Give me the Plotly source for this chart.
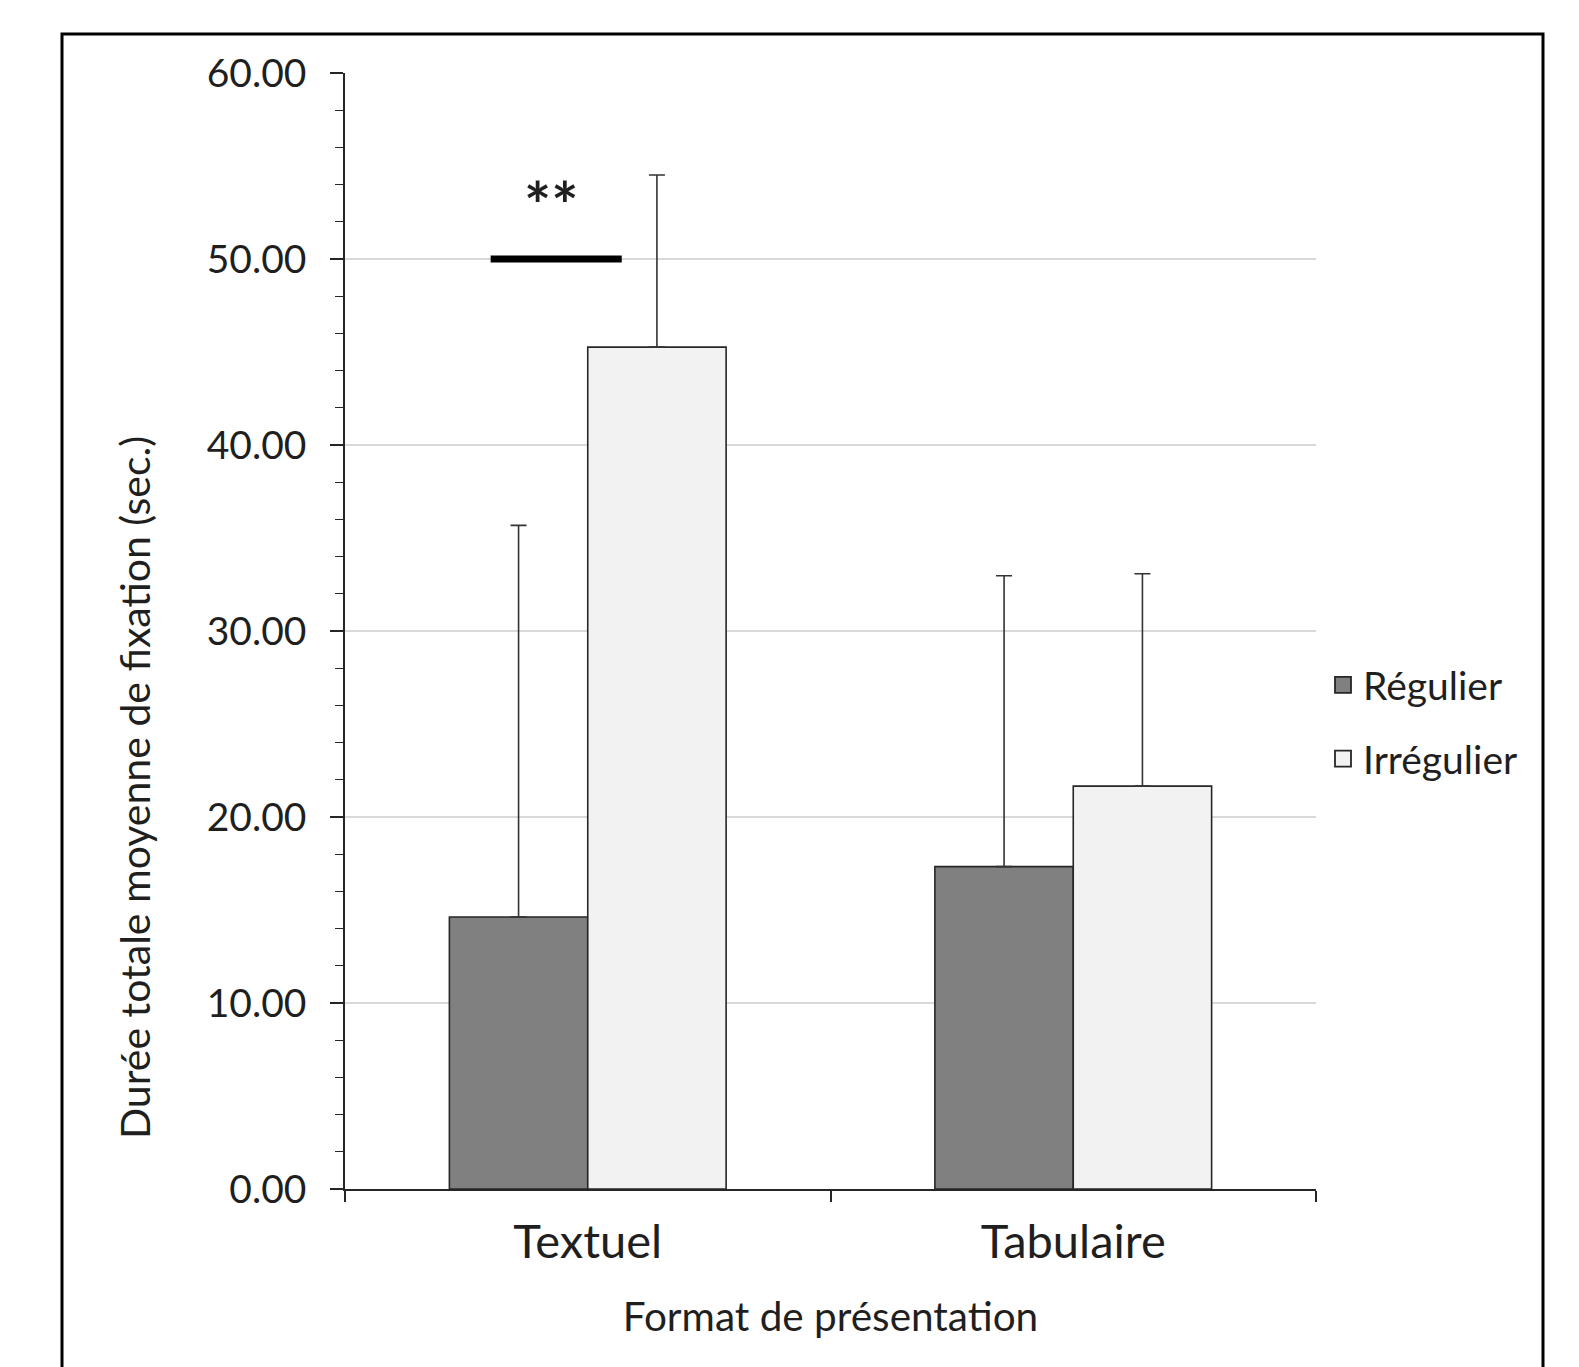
import plotly.graph_objects as go

categories = ["Textuel", "Tabulaire"]
series_names = ["Régulier", "Irrégulier"]
regulier = [14.62, 17.33]
irregulier = [45.26, 21.66]
regulier_err = [21.06, 15.64]
irregulier_err = [9.26, 11.42]
y_ticks = [0, 10, 20, 30, 40, 50, 60]
sig_label = "**"
sig_y = 50.0
sig_x = [-0.20, 0.07]
y_title = "Durée totale moyenne de fixation (sec.)"
x_title = "Format de présentation"

W, H = 1579, 1367
ML, MR, MT, MB = 337, 271, 65, 186
PW, PH = W - ML - MR, H - MT - MB

def px_x(p):
    return (p - ML) / PW

def px_y(p):
    return (H - MB - p) / PH

FONT = "Lato, Carlito, Calibri, sans-serif"
TXT = "#1f1f1f"
colors = ["#808080", "#f2f2f2"]

fig = go.Figure()
for name, vals, errs, col in [
    (series_names[0], regulier, regulier_err, colors[0]),
    (series_names[1], irregulier, irregulier_err, colors[1]),
]:
    fig.add_trace(go.Bar(
        x=categories, y=vals, name=name, showlegend=False,
        marker=dict(color=col, line=dict(color="#262626", width=1.6)),
        error_y=dict(type="data", array=errs, arrayminus=[0] * len(errs),
                     symmetric=False, color="#333333", thickness=1.6, width=8),
    ))

for i, (name, col) in enumerate(zip(series_names, colors)):
    fig.add_trace(go.Scatter(
        x=[None], y=[None], mode="markers", name=name,
        legendgroup=f"g{i}",
        marker=dict(symbol="square", size=16, color=col,
                    line=dict(color="#262626", width=1.8)),
    ))

# significance bar
fig.add_shape(type="line", xref="x", yref="y",
              x0=sig_x[0], x1=sig_x[1], y0=sig_y, y1=sig_y,
              line=dict(color="black", width=7))
fig.add_annotation(x=sum(sig_x) / 2, y=sig_y, xref="x", yref="y",
                   text="<b>" + sig_label + "</b>", showarrow=False,
                   yshift=55, xshift=-5,
                   font=dict(family=FONT, size=64, color=TXT))

# y-axis title (placed like the original, below the axis centre)
fig.add_annotation(x=px_x(126), y=px_y(780), xref="paper", yref="paper",
                   text=y_title, textangle=-90, showarrow=False,
                   xanchor="center", yanchor="middle",
                   font=dict(family=FONT, size=41, color=TXT))

# outer frame
fig.add_shape(type="rect", xref="paper", yref="paper",
              x0=px_x(54), x1=px_x(1535), y0=px_y(1400), y1=px_y(26),
              line=dict(color="black", width=3), fillcolor="rgba(0,0,0,0)")

fig.update_layout(
    width=W, height=H,
    margin=dict(l=ML, r=MR, t=MT, b=MB),
    paper_bgcolor="white", plot_bgcolor="white",
    barmode="group", bargap=0.43, bargroupgap=0,
    font=dict(family=FONT, color=TXT),
    legend=dict(x=px_x(1315), y=px_y(714), xanchor="left", yanchor="middle",
                font=dict(family=FONT, size=39, color=TXT),
                tracegroupgap=20, bgcolor="rgba(0,0,0,0)"),
    xaxis=dict(
        type="category", range=[-0.5, 1.5],
        showline=True, linecolor="#262626", linewidth=1.6,
        ticks="outside", tickson="boundaries", ticklen=11, tickwidth=1.6,
        tickcolor="#262626", showgrid=False,
        tickfont=dict(family=FONT, size=47, color=TXT),
        ticklabelstandoff=11,
        title=dict(text=x_title, standoff=35,
                   font=dict(family=FONT, size=40.5, color=TXT)),
    ),
    yaxis=dict(
        range=[0, 60], tickvals=y_ticks, tickformat=".2f",
        showline=True, linecolor="#262626", linewidth=1.6,
        ticks="outside", ticklen=13, tickwidth=1.6, tickcolor="#262626",
        showgrid=True, gridcolor="#d9d9d9", gridwidth=1.6, zeroline=False,
        minor=dict(dtick=2, ticks="outside", ticklen=8, tickwidth=1.3,
                   tickcolor="#262626", showgrid=False),
        tickfont=dict(family=FONT, size=39, color=TXT),
        ticklabelstandoff=16,
    ),
)

fig.write_html("out.html")
